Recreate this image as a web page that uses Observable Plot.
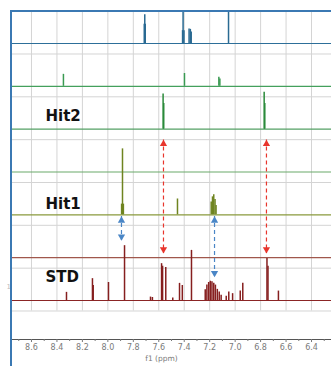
<!DOCTYPE html>
<html><head><meta charset="utf-8">
<script src="https://cdn.jsdelivr.net/npm/d3@7"></script>
<script src="https://cdn.jsdelivr.net/npm/@observablehq/plot@0.6"></script>
<style>
html,body{margin:0;padding:0;background:#fff;}
#chart{position:relative;width:331px;height:366px;overflow:hidden;}
#chart svg{display:block;}
#border{position:absolute;left:10px;top:10px;right:-5px;bottom:-5px;border-left:2px solid #3b79b3;border-top:2px solid #3b79b3;pointer-events:none;}
</style></head><body><div id="chart"><div id="border"></div></div>
<script>
// tracks from bottom (0) to top (6)
const trackIndex = [0, 1, 2, 3, 4, 5, 6];
const trackColor = ["#8b2525", "#a0574c", "#8a9a3c", "#6aaa6a", "#55a064", "#44a05c", "#2d6f99"];
const peakColor  = ["#861f1f", "#a0574c", "#6f8420", "#6aaa6a", "#2a8a3a", "#3a9a52", "#2a6a92"];

// peak lists: chemical shift (ppm) and height (in track spacings)
const stdShift  = [8.325, 8.121, 8.115, 7.995, 7.869, 7.665, 7.65, 7.578, 7.57, 7.545, 7.49, 7.437, 7.415, 7.343, 7.235, 7.222, 7.208, 7.195, 7.182, 7.168, 7.155, 7.14, 7.125, 7.11, 7.07, 7.05, 7.02, 6.96, 6.94, 6.75, 6.742, 6.66];
const stdHeight = [0.19, 0.51, 0.35, 0.42, 1.28, 0.08, 0.07, 0.86, 0.8, 0.77, 0.06, 0.4, 0.35, 1.17, 0.25, 0.36, 0.42, 0.45, 0.44, 0.4, 0.36, 0.26, 0.2, 0.12, 0.1, 0.2, 0.16, 0.22, 0.4, 0.98, 0.8, 0.22];
const hit1Shift  = [7.892, 7.885, 7.878, 7.453, 7.188, 7.178, 7.168, 7.158, 7.15];
const hit1Height = [0.25, 1.54, 0.25, 0.37, 0.3, 0.42, 0.47, 0.36, 0.22];
const hit2Shift  = [7.566, 7.561, 6.772, 6.767];
const hit2Height = [0.82, 0.6, 0.86, 0.6];
const greenShift  = [8.349, 7.398, 7.128, 7.12];
const greenHeight = [0.28, 0.3, 0.21, 0.17];
const blueShift  = [7.714, 7.71, 7.706, 7.413, 7.409, 7.402, 7.362, 7.352, 7.345, 7.052];
const blueHeight = [0.45, 0.67, 0.45, 0.3, 0.74, 0.3, 0.34, 0.33, 0.27, 0.74];

const peaksByTrack = [
  {track: 0, shift: stdShift, height: stdHeight},
  {track: 2, shift: hit1Shift, height: hit1Height},
  {track: 4, shift: hit2Shift, height: hit2Height},
  {track: 5, shift: greenShift, height: greenHeight},
  {track: 6, shift: blueShift, height: blueHeight}
];

// labels
const labelText  = ["Hit2", "Hit1", "STD"];
const labelShift = [8.49, 8.49, 8.49];
const labelY     = [4.31, 2.25, 0.54];

// arrows
const arrowShift  = [7.563, 6.754, 7.893, 7.162];
const arrowTop    = [3.747, 3.747, 1.96, 1.96];
const arrowBottom = [1.10, 1.10, 1.40, 0.545];
const arrowColor  = ["#e8352c", "#e8352c", "#4a86c6", "#4a86c6"];

// axis
const tickValues = [8.6, 8.4, 8.2, 8.0, 7.8, 7.6, 7.4, 7.2, 7.0, 6.8, 6.6, 6.4];
const minorTicks = [8.7, 8.5, 8.3, 8.1, 7.9, 7.7, 7.5, 7.3, 7.1, 6.9, 6.7, 6.5, 6.3];
const gridOffset = 0.245;

const xDomain = [8.757, 6.243];
const yDomain = [-0.9105, 6.747];

const peakMarks = peaksByTrack.map(p => {
  const rows = p.shift.map((s, i) => ({x: s, y1: p.track, y2: p.track + p.height[i]}));
  return Plot.ruleX(rows, {x: "x", y1: "y1", y2: "y2", stroke: peakColor[p.track], strokeWidth: 1.5});
});

const arrows = arrowShift.map((s, i) => ({x: s, top: arrowTop[i], bottom: arrowBottom[i], c: arrowColor[i]}));

const chart = Plot.plot({
  width: 331,
  height: 366,
  marginLeft: 11,
  marginRight: 0,
  marginTop: 11,
  marginBottom: 27,
  x: {domain: xDomain},
  y: {domain: yDomain, axis: null},
  style: {fontFamily: "'DejaVu Sans', sans-serif", background: "white"},
  marks: [
    // vertical grid
    Plot.ruleX(tickValues, {x: d => d, y1: -gridOffset, y2: yDomain[1], stroke: "#d4d4d4", strokeWidth: 1}),
    // horizontal grid below each trace
    Plot.ruleY(trackIndex, {y: d => d - gridOffset, stroke: "#d4d4d4", strokeWidth: 1}),
    // trace baselines
    ...trackIndex.map(t => Plot.ruleY([t], {y: d => d, stroke: trackColor[t], strokeWidth: 1.2})),
    ...peakMarks,
    // arrows
    Plot.ruleX(arrows, {x: "x", y1: "top", y2: "bottom", stroke: d => d.c, strokeWidth: 1.2, strokeDasharray: "4,3"}),
    Plot.dot(arrows, {x: "x", y: "top", symbol: "triangle", r: 2.7, fill: d => d.c, stroke: null, dy: 4}),
    Plot.dot(arrows, {x: "x", y: "bottom", symbol: "triangle", r: 2.7, fill: d => d.c, stroke: null, rotate: 180, dy: -4}),
    // labels
    Plot.text(labelText, {x: (d, i) => labelShift[i], y: (d, i) => labelY[i], text: d => d, textAnchor: "start", fontWeight: "bold", fontSize: 15, fill: "#111"}),
    Plot.text(["1"], {frameAnchor: "left", y: () => 0.31, dx: -5, text: d => d, fontSize: 7, fill: "#bbb"}),
    // axis
    Plot.ruleY([yDomain[0]], {y: d => d, stroke: "#555", strokeWidth: 1}),
    Plot.axisX(minorTicks, {tickSize: 2, tickFormat: () => "", stroke: "#777", label: null}),
    Plot.axisX(tickValues, {tickSize: 3, tickPadding: 2, tickFormat: d => d.toFixed(1), fontSize: 8, color: "#7a7a7a", label: null}),
    Plot.text(["f1 (ppm)"], {frameAnchor: "bottom", dy: 21, dx: -10, text: d => d, fontSize: 7.5, fill: "#7a7a7a"})
  ],
  color: {type: "identity"}
});
document.getElementById("chart").prepend(chart);
</script>
</body></html>
